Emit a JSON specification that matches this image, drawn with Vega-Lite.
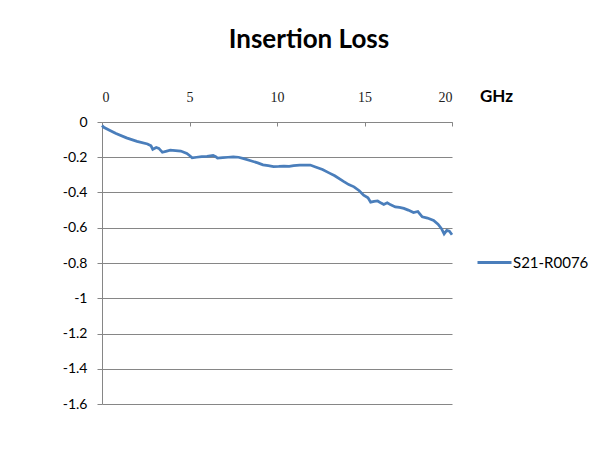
{
  "$schema": "https://vega.github.io/schema/vega-lite/v6.json",
  "width": 350,
  "height": 282,
  "autosize": {"type": "none"},
  "padding": {"left": 102, "top": 122, "right": 154, "bottom": 52},
  "background": "white",
  "title": {
    "text": "Insertion Loss",
    "font": "Lato",
    "fontSize": 26,
    "fontWeight": "bold",
    "color": "#000000",
    "anchor": "middle",
    "dx": 32,
    "offset": 34
  },
  "data": {
    "values": [
      {"ghz": 0.0, "db": -0.02},
      {"ghz": 0.1, "db": -0.03},
      {"ghz": 0.4, "db": -0.045},
      {"ghz": 0.8, "db": -0.065},
      {"ghz": 1.4, "db": -0.09},
      {"ghz": 2.0, "db": -0.11},
      {"ghz": 2.6, "db": -0.125},
      {"ghz": 2.8, "db": -0.135},
      {"ghz": 2.9, "db": -0.155},
      {"ghz": 3.1, "db": -0.145},
      {"ghz": 3.25, "db": -0.15},
      {"ghz": 3.45, "db": -0.172},
      {"ghz": 3.7, "db": -0.165},
      {"ghz": 3.9, "db": -0.16},
      {"ghz": 4.2, "db": -0.162},
      {"ghz": 4.5, "db": -0.165},
      {"ghz": 4.85, "db": -0.178},
      {"ghz": 5.0, "db": -0.19},
      {"ghz": 5.15, "db": -0.203},
      {"ghz": 5.4, "db": -0.2},
      {"ghz": 5.7, "db": -0.197},
      {"ghz": 6.0, "db": -0.195},
      {"ghz": 6.35, "db": -0.19},
      {"ghz": 6.5, "db": -0.197},
      {"ghz": 6.6, "db": -0.205},
      {"ghz": 6.9, "db": -0.202},
      {"ghz": 7.2, "db": -0.2},
      {"ghz": 7.5, "db": -0.198},
      {"ghz": 7.8, "db": -0.2},
      {"ghz": 8.1, "db": -0.208},
      {"ghz": 8.5, "db": -0.22},
      {"ghz": 8.9, "db": -0.232},
      {"ghz": 9.2, "db": -0.243},
      {"ghz": 9.5, "db": -0.248},
      {"ghz": 9.8, "db": -0.253},
      {"ghz": 10.1, "db": -0.252},
      {"ghz": 10.4, "db": -0.25},
      {"ghz": 10.7, "db": -0.252},
      {"ghz": 10.95, "db": -0.247},
      {"ghz": 11.3, "db": -0.245},
      {"ghz": 11.6, "db": -0.244},
      {"ghz": 11.9, "db": -0.244},
      {"ghz": 12.2, "db": -0.255},
      {"ghz": 12.6, "db": -0.27},
      {"ghz": 13.0, "db": -0.29},
      {"ghz": 13.3, "db": -0.305},
      {"ghz": 13.8, "db": -0.337},
      {"ghz": 14.1, "db": -0.355},
      {"ghz": 14.4, "db": -0.368},
      {"ghz": 14.7, "db": -0.39},
      {"ghz": 14.95, "db": -0.415},
      {"ghz": 15.2, "db": -0.43},
      {"ghz": 15.35, "db": -0.455},
      {"ghz": 15.55, "db": -0.45},
      {"ghz": 15.75, "db": -0.448},
      {"ghz": 15.95, "db": -0.46},
      {"ghz": 16.1, "db": -0.468},
      {"ghz": 16.3, "db": -0.458},
      {"ghz": 16.5, "db": -0.47},
      {"ghz": 16.76, "db": -0.482},
      {"ghz": 17.0, "db": -0.485},
      {"ghz": 17.25, "db": -0.49},
      {"ghz": 17.5, "db": -0.5},
      {"ghz": 17.8, "db": -0.514},
      {"ghz": 18.05, "db": -0.508},
      {"ghz": 18.3, "db": -0.538},
      {"ghz": 18.6, "db": -0.545},
      {"ghz": 18.95, "db": -0.558},
      {"ghz": 19.2, "db": -0.58},
      {"ghz": 19.4, "db": -0.605},
      {"ghz": 19.55, "db": -0.635},
      {"ghz": 19.7, "db": -0.615},
      {"ghz": 19.85, "db": -0.62},
      {"ghz": 20.0, "db": -0.64}
    ]
  },
  "mark": {"type": "line", "strokeWidth": 2.75, "interpolate": "linear"},
  "encoding": {
    "x": {
      "field": "ghz",
      "type": "quantitative",
      "scale": {"domain": [0, 20], "nice": false, "zero": false},
      "axis": {
        "orient": "top",
        "values": [0, 5, 10, 15, 20],
        "grid": false,
        "domainColor": "#868686",
        "domainWidth": 1,
        "tickColor": "#868686",
        "tickSize": -4,
        "labelFont": "Liberation Serif",
        "labelFontSize": 14,
        "labelColor": "#222222",
        "labelPadding": 22,
        "title": "GHz",
        "titleFont": "Lato",
        "titleFontSize": 17,
        "titleFontWeight": "bold",
        "titleColor": "#000000",
        "titleX": 394,
        "titleY": -21,
        "titleAlign": "center",
        "titleBaseline": "alphabetic",
        "titleAngle": 0
      }
    },
    "y": {
      "field": "db",
      "type": "quantitative",
      "scale": {"domain": [-1.6, 0], "nice": false, "zero": false},
      "axis": {
        "values": [0, -0.2, -0.4, -0.6, -0.8, -1, -1.2, -1.4, -1.6],
        "labelExpr": "datum.value + ''",
        "grid": true,
        "gridColor": "#868686",
        "gridWidth": 1,
        "domainColor": "#868686",
        "domainWidth": 1,
        "tickColor": "#868686",
        "tickSize": 5,
        "labelFont": "Lato",
        "labelFontSize": 14,
        "labelColor": "#000000",
        "labelPadding": 10,
        "title": null
      }
    },
    "color": {
      "datum": "S21-R0076",
      "type": "nominal",
      "scale": {"range": ["#4a7ebb"]},
      "legend": {
        "orient": "none",
        "legendX": 374,
        "legendY": 122,
        "title": null,
        "symbolType": "stroke",
        "symbolSize": 1156,
        "symbolStrokeWidth": 3,
        "labelFont": "Lato",
        "labelFontSize": 15,
        "labelColor": "#000000",
        "labelOffset": 0,
        "padding": 0
      }
    }
  },
  "config": {
    "view": {"stroke": null}
  }
}
